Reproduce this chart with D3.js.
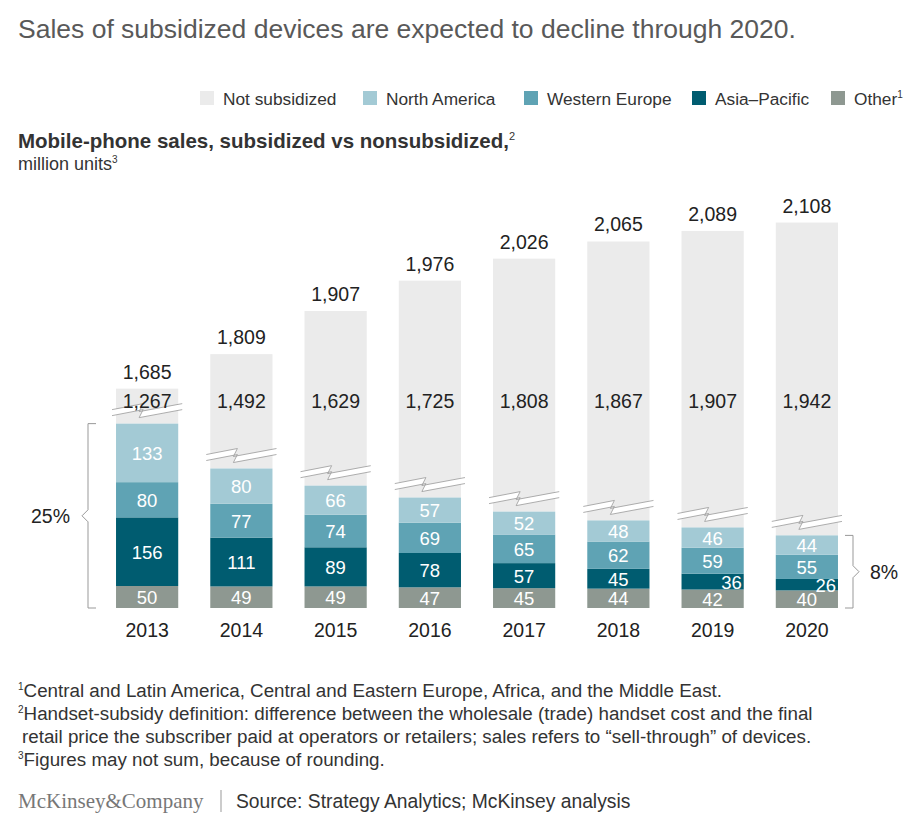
<!DOCTYPE html>
<html><head><meta charset="utf-8">
<script src="https://cdn.jsdelivr.net/npm/d3@7"></script>
<style>body{margin:0;background:#fff;font-family:"Liberation Sans",Arial,sans-serif}</style>
</head><body><svg id="c" width="924" height="823"></svg>
<script>
const years = ["2013","2014","2015","2016","2017","2018","2019","2020"];
const other = [50,49,49,47,45,44,42,40];
const asiaPacific = [156,111,89,78,57,45,36,26];
const westernEurope = [80,77,74,69,65,62,59,55];
const northAmerica = [133,80,66,57,52,48,46,44];
const notSubsidized = [1267,1492,1629,1725,1808,1867,1907,1942];
const totals = [1685,1809,1907,1976,2026,2065,2089,2108];
const colors = {"Not subsidized":"#ebebeb","North America":"#a3cad5","Western Europe":"#5fa3b4","Asia\u2013Pacific":"#005c70","Other":"#8e9891"};

const svg = d3.select("#c");
const base = 608, breakAmt = 1232, gap = 20;

const x = d3.scaleBand().domain(years).range([100, 854]).paddingInner(0.34).paddingOuter(0.17);
const y = d3.scaleLinear().domain([0, 1000]).range([base, base - 440]);

// Title
svg.append("text").attr("x",18).attr("y",38).attr("font-size",26.5).attr("fill","#595959").text("Sales of subsidized devices are expected to decline through 2020.");

// Legend
const legendItems = [["Not subsidized",200],["North America",363],["Western Europe",524],["Asia\u2013Pacific",692],["Other",831]];
legendItems.forEach(([n,lx])=>{
  svg.append("rect").attr("x",lx).attr("y",91).attr("width",14).attr("height",14).attr("fill",colors[n]);
  const t = svg.append("text").attr("x",lx+23).attr("y",105).attr("font-size",17.3).attr("fill","#333").text(n);
  if(n==="Other") t.append("tspan").attr("font-size",10).attr("dy",-7).text("1");
});

// Subtitle
const st = svg.append("text").attr("x",18).attr("y",148).attr("font-size",20.5).attr("font-weight","bold").attr("fill","#333").text("Mobile-phone sales, subsidized vs nonsubsidized,");
st.append("tspan").attr("font-size",11).attr("font-weight","normal").attr("dy",-8).text("2");
const st2 = svg.append("text").attr("x",18).attr("y",170).attr("font-size",18).attr("fill","#333").text("million units");
st2.append("tspan").attr("font-size",10).attr("dy",-7).text("3");

years.forEach((yr,i)=>{
  const bx = x(yr), bw = x.bandwidth(), cx = bx + bw/2;
  const segs = [["Other",other[i]],["Asia\u2013Pacific",asiaPacific[i]],["Western Europe",westernEurope[i]],["North America",northAmerica[i]]];
  let cum = 0;
  const subTop = y(other[i]+asiaPacific[i]+westernEurope[i]+northAmerica[i]);
  const top = Math.min(y(totals[i]-breakAmt), subTop - 35);
  svg.append("rect").attr("x",bx).attr("y",top).attr("width",bw).attr("height",subTop-top).attr("fill",colors["Not subsidized"]);
  segs.forEach(([n,v])=>{
    const y0 = y(cum), y1 = y(cum+v);
    svg.append("rect").attr("x",bx).attr("y",y1).attr("width",bw).attr("height",y0-y1).attr("fill",colors[n]);
    const small = n==="Asia\u2013Pacific" && v<40;
    svg.append("text").attr("x",small?bx+bw-2:cx).attr("y",(y0+y1)/2+7).attr("text-anchor",small?"end":"middle")
      .attr("font-size",18.5).attr("fill","#fff").text(v);
    cum += v;
  });
  // break mark
  const by = subTop - gap, ex = 4;
  const zig = (o)=>`M${bx-ex},${by+6+o} L${cx-4},${by+o} L${cx-8},${by+8+o} L${bx+bw+ex},${by+o}`;
  svg.append("path").attr("d",`M${bx-ex},${by+6} L${cx-4},${by} L${cx-8},${by+8} L${bx+bw+ex},${by} L${bx+bw+ex},${by+6} L${cx-8},${by+14} L${cx-4},${by+6} L${bx-ex},${by+12}Z`).attr("fill","#fff");
  svg.append("path").attr("d",zig(0)).attr("fill","none").attr("stroke","#999").attr("stroke-width",0.8);
  svg.append("path").attr("d",zig(6)).attr("fill","none").attr("stroke","#999").attr("stroke-width",0.8);
  svg.append("text").attr("x",cx).attr("y",408).attr("text-anchor","middle").attr("font-size",19.5).attr("fill","#222").text(d3.format(",")(notSubsidized[i]));
  svg.append("text").attr("x",cx).attr("y",top-10).attr("text-anchor","middle").attr("font-size",19.5).attr("fill","#222").text(d3.format(",")(totals[i]));
});

// x axis
const xa = svg.append("g").attr("transform",`translate(0,${base})`).call(d3.axisBottom(x).tickSize(0).tickPadding(15));
xa.select(".domain").remove();
xa.selectAll("text").attr("font-size",19.5).attr("fill","#222").attr("font-family","Liberation Sans, Arial, sans-serif");

// brackets
const b13 = y(other[0]+asiaPacific[0]+westernEurope[0]+northAmerica[0]);
svg.append("path").attr("d",`M96,${b13} L88,${b13} L88,${(b13+base)/2-6} L82,${(b13+base)/2} L88,${(b13+base)/2+6} L88,${base} L96,${base}`).attr("fill","none").attr("stroke","#999");
svg.append("text").attr("x",70).attr("y",(b13+base)/2+7).attr("text-anchor","end").attr("font-size",19.5).attr("fill","#222").text("25%");
const b20 = y(other[7]+asiaPacific[7]+westernEurope[7]+northAmerica[7]);
svg.append("path").attr("d",`M845,${b20} L853,${b20} L853,${(b20+base)/2-6} L859,${(b20+base)/2} L853,${(b20+base)/2+6} L853,${base} L845,${base}`).attr("fill","none").attr("stroke","#999");
svg.append("text").attr("x",870).attr("y",(b20+base)/2+7).attr("font-size",19.5).attr("fill","#222").text("8%");

// footnotes
const notes = [["1","Central and Latin America, Central and Eastern Europe, Africa, and the Middle East."],
  ["2","Handset-subsidy definition: difference between the wholesale (trade) handset cost and the final"],
  ["","retail price the subscriber paid at operators or retailers; sales refers to \u201csell-through\u201d of devices."],
  ["3","Figures may not sum, because of rounding."]];
notes.forEach(([s,t],i)=>{
  const tx = svg.append("text").attr("x",18).attr("y",697+i*23).attr("font-size",18.8).attr("fill","#333");
  if(s) tx.append("tspan").attr("font-size",10).attr("dy",-7).text(s);
  tx.append("tspan").attr("dy",s?7:0).attr("x",s?undefined:22).text(t);
});
svg.append("text").attr("x",18).attr("y",808).attr("font-size",21).attr("font-family","Liberation Serif, serif").attr("fill","#777").text("McKinsey&Company");
svg.append("line").attr("x1",221).attr("x2",221).attr("y1",790).attr("y2",812).attr("stroke","#999");
svg.append("text").attr("x",236).attr("y",808).attr("font-size",19.3).attr("fill","#333").text("Source: Strategy Analytics; McKinsey analysis");
</script></body></html>
